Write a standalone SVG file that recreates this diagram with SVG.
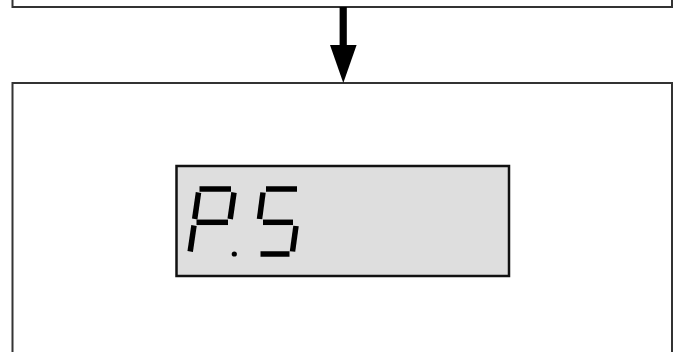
<svg xmlns="http://www.w3.org/2000/svg" width="680" height="352" viewBox="0 0 680 352">
  <style>
    .box { fill: #ffffff; stroke: #333333; stroke-width: 2; }
    .lcd { fill: #dedede; stroke: #111111; stroke-width: 2.5; }
    .seg { stroke: #000000; stroke-width: 5.5; stroke-linecap: butt; fill: none; }
    .arrow { fill: #000000; stroke: none; }
  </style>
  <rect x="0" y="0" width="680" height="352" fill="#ffffff"/>
  <g id="top-box">
    <rect class="box" x="12.5" y="-20" width="659.5" height="27"/>
  </g>
  <g id="display-box">
    <rect class="box" x="12.5" y="83" width="659.5" height="290"/>
    <g id="lcd">
      <rect class="lcd" x="176.5" y="166" width="332.5" height="110"/>
      <g id="lcd-segments">
        <!-- P -->
        <line class="seg" x1="199.5" y1="189" x2="231" y2="189"/>
        <line class="seg" x1="198.5" y1="192.5" x2="194.7" y2="219"/>
        <line class="seg" x1="234" y1="192.5" x2="230.2" y2="219"/>
        <line class="seg" x1="196.5" y1="222.3" x2="228" y2="222.3"/>
        <line class="seg" x1="194" y1="225.5" x2="190.2" y2="251.5"/>
        <circle cx="234.3" cy="254" r="2.6" fill="#000"/>
        <!-- 5 -->
        <line class="seg" x1="266" y1="189" x2="297" y2="189"/>
        <line class="seg" x1="263" y1="192.5" x2="259.5" y2="219"/>
        <line class="seg" x1="263" y1="222.3" x2="293" y2="222.3"/>
        <line class="seg" x1="296" y1="226" x2="292.5" y2="251.5"/>
        <line class="seg" x1="260.5" y1="254" x2="289.5" y2="254"/>
      </g>
    </g>
  </g>
  <g id="connectors">
    <rect class="arrow" x="339.6" y="7" width="7.2" height="39"/>
    <polygon class="arrow" points="330,45 356.6,45 343.3,83"/>
  </g>
</svg>
